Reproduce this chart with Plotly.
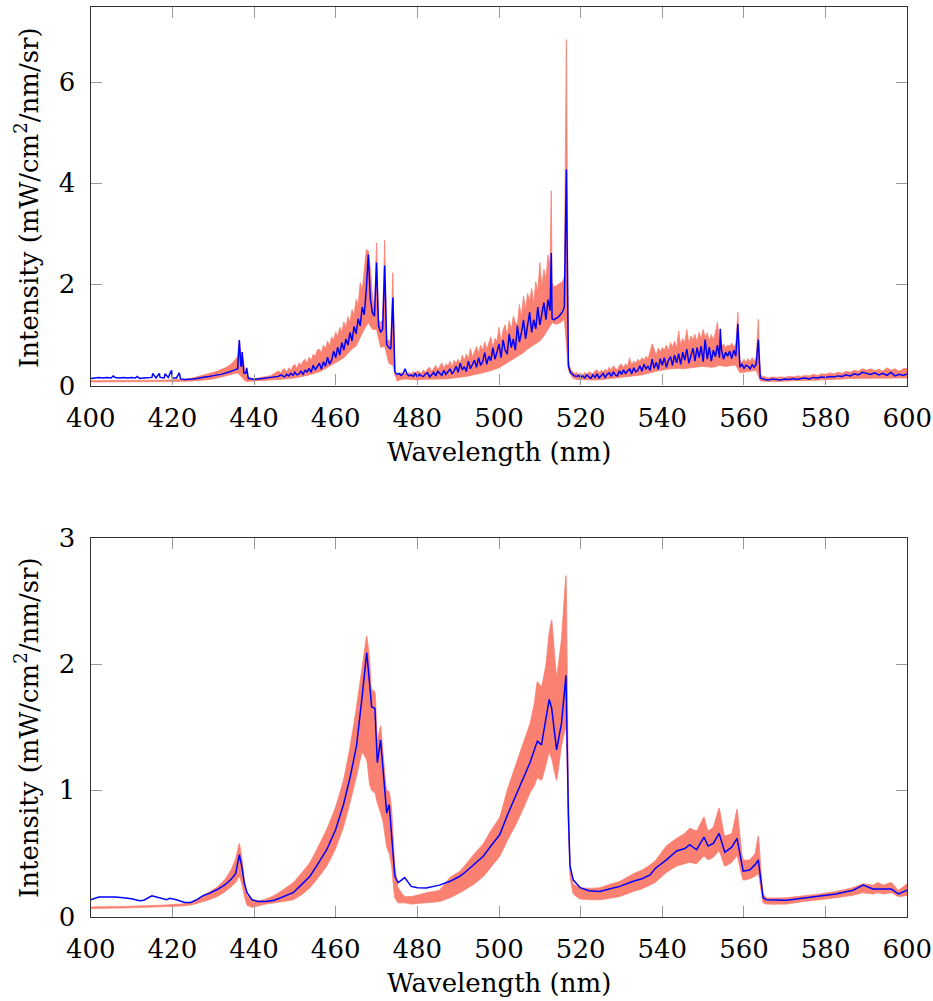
import plotly.graph_objects as go

# ---------------- Top panel: full-resolution spectrum ----------------
# Blue measured spectrum, sampled on evenly spaced segments (start, stop, values)
LINE_A_RANGE = (400.0, 445.0)
LINE_A = [0.14, 0.15, 0.16, 0.15, 0.16, 0.15, 0.16, 0.15, 0.16, 0.15,
          0.16, 0.15, 0.14, 0.15, 0.15, 0.16, 0.15, 0.16, 0.15, 0.16,
          0.15, 0.15, 0.13, 0.12, 0.12, 0.13, 0.14, 0.16, 0.17, 0.18,
          0.20, 0.21, 0.22, 0.24, 0.27, 0.30, 0.33, 0.42, 0.24, 0.14,
          0.12, 0.13, 0.14, 0.14, 0.15, 0.16]
LINE_B_RANGE = (446.0, 474.0)
LINE_B = [0.18, 0.21, 0.19, 0.17, 0.22, 0.19, 0.24, 0.20, 0.26, 0.21,
          0.23, 0.28, 0.22, 0.30, 0.27, 0.34, 0.26, 0.40, 0.31, 0.37,
          0.44, 0.32, 0.47, 0.38, 0.56, 0.42, 0.50, 0.68, 0.55, 0.76,
          0.60, 0.85, 0.70, 0.92, 0.80, 1.05, 0.88, 1.17, 1.02, 1.32,
          1.18, 1.55, 1.40, 1.90, 2.59, 1.70, 1.44, 1.37, 2.43, 1.18,
          1.05, 1.11, 2.37, 0.81, 0.75, 0.72, 1.74]
LINE_C_RANGE = (474.5, 516.5)
LINE_C = [0.27, 0.22, 0.24, 0.20, 0.23, 0.33, 0.22, 0.19, 0.21, 0.18,
          0.24, 0.17, 0.22, 0.19, 0.18, 0.23, 0.25, 0.17, 0.21, 0.26,
          0.19, 0.28, 0.24, 0.20, 0.30, 0.22, 0.27, 0.33, 0.23, 0.29,
          0.38, 0.26, 0.44, 0.31, 0.37, 0.28, 0.48, 0.33, 0.42, 0.50,
          0.36, 0.55, 0.40, 0.47, 0.65, 0.42, 0.58, 0.49, 0.75, 0.52,
          0.66, 0.82, 0.55, 0.90, 0.70, 0.62, 1.02, 0.75, 0.92, 0.70,
          1.18, 0.86, 1.05, 1.30, 0.92, 1.22, 1.45, 1.05, 1.30, 1.12,
          1.55, 1.20, 1.42, 1.64, 1.30, 1.70, 1.48, 1.32, 1.30, 1.33,
          1.35, 1.40, 1.45, 1.55, 4.27]
LINE_D_RANGE = (517.0, 564.0)
LINE_D = [0.39, 0.26, 0.22, 0.19, 0.18, 0.20, 0.16, 0.19, 0.15, 0.21,
          0.17, 0.14, 0.21, 0.16, 0.23, 0.15, 0.19, 0.24, 0.16, 0.22,
          0.25, 0.18, 0.27, 0.21, 0.19, 0.29, 0.22, 0.31, 0.24, 0.28,
          0.33, 0.23, 0.35, 0.27, 0.30, 0.39, 0.28, 0.42, 0.33, 0.38,
          0.30, 0.52, 0.34, 0.46, 0.32, 0.53, 0.40, 0.55, 0.36, 0.50,
          0.57, 0.40, 0.60, 0.45, 0.63, 0.42, 0.66, 0.50, 0.72, 0.44,
          0.62, 0.74, 0.48, 0.75, 0.55, 0.78, 0.47, 0.91, 0.52, 0.76,
          0.48, 0.70, 0.57, 0.80, 0.55, 0.70, 0.52, 0.66, 0.58, 0.68,
          0.53, 0.70, 0.58, 1.22, 0.36, 0.42, 0.34, 0.40, 0.38, 0.33,
          0.41, 0.36, 0.42, 0.91, 0.15]
LINE_E_RANGE = (565.0, 600.0)
LINE_E = [0.12, 0.11, 0.13, 0.12, 0.11, 0.13, 0.12, 0.14, 0.12, 0.14,
          0.15, 0.13, 0.16, 0.15, 0.17, 0.16, 0.18, 0.17, 0.19, 0.18,
          0.21, 0.19, 0.23, 0.21, 0.26, 0.24, 0.22, 0.25, 0.21, 0.24,
          0.20, 0.26, 0.19, 0.22, 0.20, 0.23]
LINE_SPIKE_WL = [405.5, 411.3, 415.2, 416.8, 418.2, 419.8, 421.7, 436.4,
                 436.8, 437.1, 437.5, 438.2, 438.6, 512.8, 554.2]
LINE_SPIKE = [0.19, 0.18, 0.24, 0.24, 0.23, 0.30, 0.25, 0.90,
              0.37, 0.66, 0.25, 0.35, 0.14, 2.62, 1.12]

# Salmon spread band: upper edge
HI_A_RANGE = (400.0, 445.0)
HI_A = [0.095, 0.095, 0.095, 0.095, 0.095, 0.095, 0.095, 0.095, 0.10, 0.10,
        0.10, 0.10, 0.10, 0.10, 0.10, 0.105, 0.105, 0.105, 0.105, 0.11,
        0.11, 0.11, 0.11, 0.12, 0.13, 0.15, 0.17, 0.19, 0.22, 0.23,
        0.26, 0.28, 0.32, 0.35, 0.40, 0.47, 0.58, 0.50, 0.22, 0.15,
        0.13, 0.15, 0.16, 0.18, 0.19, 0.24]
HI_B_RANGE = (446.0, 474.0)
HI_B = [0.29, 0.24, 0.31, 0.33, 0.26, 0.35, 0.30, 0.38, 0.42, 0.33,
        0.45, 0.40, 0.48, 0.52, 0.44, 0.56, 0.50, 0.62, 0.58, 0.70,
        0.72, 0.64, 0.80, 0.72, 0.88, 0.78, 0.96, 0.90, 1.06, 0.96,
        1.15, 1.05, 1.26, 1.14, 1.36, 1.25, 1.50, 1.40, 1.70, 1.58,
        2.03, 1.88, 2.23, 2.69, 2.66, 2.30, 1.77, 1.50, 2.82, 1.30,
        1.24, 1.30, 2.87, 0.90, 0.90, 0.84, 2.23]
HI_C_RANGE = (474.5, 516.5)
HI_C = [0.19, 0.24, 0.20, 0.26, 0.22, 0.25, 0.21, 0.26, 0.22, 0.28,
        0.23, 0.29, 0.26, 0.24, 0.31, 0.25, 0.33, 0.36, 0.27, 0.35,
        0.40, 0.31, 0.38, 0.45, 0.33, 0.43, 0.38, 0.48, 0.36, 0.50,
        0.44, 0.52, 0.43, 0.60, 0.50, 0.62, 0.52, 0.73, 0.56, 0.68,
        0.77, 0.64, 0.80, 0.70, 0.86, 0.72, 0.84, 0.96, 0.75, 0.93,
        0.88, 1.15, 0.86, 1.10, 1.20, 0.98, 1.28, 1.10, 1.37, 1.25,
        1.20, 1.60, 1.35, 1.77, 1.50, 1.82, 1.68, 1.92, 1.62, 2.05,
        1.85, 2.43, 1.95, 2.30, 2.10, 2.58, 2.35, 2.03, 1.95, 1.97,
        2.00, 2.03, 2.05, 2.15, 6.84]
HI_D_RANGE = (517.0, 564.0)
HI_D = [0.50, 0.32, 0.28, 0.24, 0.26, 0.22, 0.24, 0.21, 0.26, 0.22,
        0.27, 0.25, 0.23, 0.29, 0.31, 0.25, 0.30, 0.27, 0.32, 0.29,
        0.36, 0.30, 0.39, 0.34, 0.31, 0.40, 0.42, 0.35, 0.43, 0.38,
        0.55, 0.40, 0.48, 0.44, 0.52, 0.47, 0.55, 0.50, 0.58, 0.52,
        0.66, 0.82, 0.72, 0.60, 0.74, 0.66, 0.75, 0.70, 0.80, 0.68,
        0.85, 0.76, 0.88, 0.74, 1.08, 0.80, 0.93, 0.85, 1.11, 0.82,
        0.98, 0.90, 1.01, 0.86, 1.05, 0.92, 1.11, 0.95, 1.04, 0.88,
        1.01, 0.90, 1.05, 1.25, 0.85, 0.76, 0.82, 0.74, 0.80, 0.78,
        0.84, 0.76, 0.82, 1.45, 0.50, 0.45, 0.52, 0.46, 0.53, 0.47,
        0.55, 0.48, 0.56, 1.31, 0.20]
HI_E_RANGE = (565.0, 600.0)
HI_E = [0.17, 0.15, 0.17, 0.16, 0.17, 0.16, 0.18, 0.17, 0.19, 0.18,
        0.20, 0.19, 0.22, 0.20, 0.23, 0.22, 0.25, 0.23, 0.26, 0.24,
        0.28, 0.26, 0.30, 0.28, 0.33, 0.30, 0.33, 0.29, 0.32, 0.28,
        0.35, 0.30, 0.33, 0.28, 0.33, 0.34]
HI_SPIKE_WL = [436.4, 437.1, 512.8]
HI_SPIKE = [0.88, 0.60, 3.85]

# Salmon spread band: lower edge
LO_A_RANGE = (400.0, 444.0)
LO_A = [0.07, 0.07, 0.07, 0.07, 0.07, 0.072, 0.072, 0.074, 0.076, 0.078,
        0.08, 0.082, 0.086, 0.095, 0.11, 0.13, 0.16, 0.21, 0.25, 0.08,
        0.08, 0.10, 0.11]
LO_B_RANGE = (446.0, 517.0)
LO_B = [0.12, 0.12, 0.13, 0.14, 0.15, 0.16, 0.18, 0.20, 0.22, 0.24,
        0.27, 0.31, 0.35, 0.40, 0.45, 0.50, 0.55, 0.63, 0.72, 0.78,
        0.95, 1.11, 1.24, 1.11, 1.11, 0.75, 0.78, 0.44, 0.40, 0.09,
        0.12, 0.13, 0.13, 0.12, 0.11, 0.12, 0.12, 0.12, 0.12, 0.13,
        0.13, 0.13, 0.13, 0.15, 0.16, 0.17, 0.18, 0.19, 0.21, 0.23,
        0.25, 0.27, 0.29, 0.32, 0.35, 0.40, 0.45, 0.50, 0.55, 0.60,
        0.65, 0.72, 0.78, 0.83, 0.88, 0.98, 1.11, 1.24, 1.21, 1.24,
        1.31, 0.30]
LO_C_RANGE = (518.0, 565.0)
LO_C = [0.15, 0.12, 0.11, 0.11, 0.11, 0.11, 0.11, 0.12, 0.13,
        0.13, 0.14, 0.15, 0.16, 0.17, 0.19, 0.19, 0.20, 0.21, 0.22,
        0.25, 0.27, 0.29, 0.31, 0.32, 0.33, 0.34, 0.34, 0.33, 0.33,
        0.35, 0.36, 0.37, 0.38, 0.37, 0.36, 0.37, 0.40, 0.38, 0.38,
        0.40, 0.40, 0.25, 0.27, 0.28, 0.29, 0.30, 0.09, 0.08]
LO_D_RANGE = (566.0, 600.0)
LO_D = [0.08, 0.08, 0.09, 0.09, 0.10, 0.10, 0.11, 0.11, 0.12, 0.13,
        0.14, 0.15, 0.15, 0.15, 0.15, 0.14, 0.15, 0.15]

# ---------------- Bottom panel: smoothed spectrum ----------------
SMOOTH_WL = [400, 402, 404, 406, 408, 410, 412, 413, 415, 417,
             418.6, 419.4, 421, 423, 424.5, 426, 427.5, 429, 431, 433,
             434.5, 435.5, 436.4, 437, 437.6, 438.3, 439.5, 441, 443, 445,
             447, 449.6, 451.5, 453.7, 455.5, 457.8, 460, 461.9, 463.5, 465.1,
             466.5, 467.6, 468.3, 468.8, 469.6, 470.2, 471, 471.6, 472.5, 473.1,
             473.7, 474.5, 475.3, 476.9, 478.5, 480, 482.2, 485.4, 488, 490.4,
             492, 494, 496.2, 498, 500.2, 502, 504.3, 506, 507.6, 508.7,
             509.4, 510.4, 511.5, 512.3, 512.9, 514.1, 515.3, 516.4, 517, 517.4,
             518.2, 519.9, 522, 524.7, 527, 529.6, 532.9, 535, 537, 538.2,
             541, 543.5, 545.5, 546.7, 548.4, 550.2, 551.2, 552.5, 553.9, 555.3,
             557, 558.3, 559.8, 561.4, 562.7, 563.5, 564.7, 565.5, 570.4, 574.5,
             578.6, 582.5, 586.7, 589.2, 591.6, 592.8, 594.1, 596.1, 597.8, 600]
SMOOTH_MEAN = [0.134, 0.156, 0.155, 0.156, 0.150, 0.142, 0.127, 0.130, 0.166, 0.150,
               0.134, 0.145, 0.134, 0.113, 0.113, 0.135, 0.166, 0.185, 0.215, 0.255,
               0.30, 0.34, 0.492, 0.40, 0.27, 0.19, 0.134, 0.121, 0.12, 0.13,
               0.155, 0.19, 0.25, 0.32, 0.41, 0.53, 0.69, 0.886, 1.10, 1.35,
               1.75, 2.09, 1.85, 1.66, 1.65, 1.22, 1.40, 1.15, 0.82, 0.886,
               0.66, 0.32, 0.27, 0.31, 0.24, 0.23, 0.227, 0.25, 0.28, 0.32,
               0.36, 0.42, 0.48, 0.56, 0.65, 0.80, 0.98, 1.10, 1.22, 1.32,
               1.39, 1.36, 1.55, 1.72, 1.65, 1.32, 1.53, 1.91, 0.80, 0.40,
               0.29, 0.23, 0.205, 0.20, 0.22, 0.24, 0.28, 0.30, 0.33, 0.38,
               0.45, 0.52, 0.54, 0.57, 0.53, 0.63, 0.56, 0.58, 0.66, 0.51,
               0.55, 0.62, 0.36, 0.37, 0.41, 0.45, 0.15, 0.134, 0.13, 0.145,
               0.16, 0.18, 0.21, 0.25, 0.22, 0.22, 0.22, 0.22, 0.18, 0.21]
SMOOTH_HI = [0.077, 0.078, 0.079, 0.080, 0.081, 0.083, 0.085, 0.086, 0.089, 0.091,
             0.093, 0.095, 0.098, 0.103, 0.112, 0.135, 0.165, 0.195, 0.235, 0.30,
             0.38, 0.46, 0.58, 0.47, 0.30, 0.17, 0.13, 0.125, 0.14, 0.17,
             0.21, 0.27, 0.34, 0.43, 0.54, 0.69, 0.87, 1.08, 1.34, 1.66,
             1.98, 2.22, 2.05, 1.80, 1.78, 1.40, 1.51, 1.30, 1.00, 0.99,
             0.85, 0.40, 0.23, 0.16, 0.16, 0.17, 0.19, 0.21, 0.31, 0.36,
             0.42, 0.50, 0.58, 0.68, 0.79, 1.00, 1.22, 1.38, 1.53, 1.70,
             1.86, 1.82, 2.00, 2.25, 2.35, 1.90, 2.20, 2.70, 1.00, 0.42,
             0.26, 0.23, 0.225, 0.23, 0.255, 0.28, 0.34, 0.37, 0.41, 0.44,
             0.56, 0.62, 0.66, 0.70, 0.68, 0.79, 0.68, 0.71, 0.86, 0.64,
             0.66, 0.85, 0.45, 0.45, 0.50, 0.64, 0.18, 0.15, 0.15, 0.165,
             0.18, 0.20, 0.23, 0.26, 0.25, 0.27, 0.25, 0.27, 0.21, 0.26]
SMOOTH_LO = [0.065, 0.066, 0.067, 0.068, 0.069, 0.071, 0.073, 0.074, 0.076, 0.078,
             0.080, 0.081, 0.083, 0.087, 0.092, 0.105, 0.120, 0.135, 0.16, 0.20,
             0.24, 0.27, 0.32, 0.26, 0.17, 0.09, 0.075, 0.085, 0.10, 0.11,
             0.12, 0.134, 0.17, 0.23, 0.30, 0.40, 0.54, 0.71, 0.90, 1.11,
             1.30, 1.24, 1.05, 1.00, 0.98, 0.90, 0.82, 0.75, 0.55, 0.50,
             0.40, 0.15, 0.11, 0.11, 0.10, 0.105, 0.11, 0.12, 0.15, 0.19,
             0.22, 0.26, 0.32, 0.39, 0.48, 0.60, 0.74, 0.86, 0.98, 1.04,
             1.10, 1.08, 1.20, 1.30, 1.25, 1.08, 1.35, 1.50, 0.70, 0.32,
             0.18, 0.14, 0.135, 0.134, 0.145, 0.16, 0.20, 0.22, 0.25, 0.27,
             0.35, 0.40, 0.42, 0.43, 0.42, 0.48, 0.45, 0.47, 0.52, 0.40,
             0.43, 0.48, 0.29, 0.30, 0.32, 0.34, 0.11, 0.10, 0.10, 0.12,
             0.135, 0.15, 0.17, 0.19, 0.18, 0.19, 0.18, 0.19, 0.16, 0.17]

X_TICKS = [400, 420, 440, 460, 480, 500, 520, 540, 560, 580, 600]
TOP_Y_TICKS = [0, 2, 4, 6]
BOTTOM_Y_TICKS = [0, 1, 2, 3]

X_LABEL = "Wavelength (nm)"
Y_LABEL = "Intensity (mW/cm<sup>2</sup>/nm/sr)"

SALMON = "#FA8072"
BLUE = "#0000FF"
FONT = "DejaVu Serif"


def spread(rng, values):
    """Evenly spaced wavelengths for a segment of samples."""
    start, stop = rng
    n = len(values)
    step = (stop - start) / (n - 1)
    return [start + i * step for i in range(n)]


def merge(pairs):
    pts = []
    for rng, vals in pairs:
        pts.extend(zip(spread(rng, vals), vals))
    return pts


def with_spikes(pts, wl, vals):
    pts = pts + list(zip(wl, vals))
    pts.sort(key=lambda p: p[0])
    return [p[0] for p in pts], [p[1] for p in pts]


line_x, line_y = with_spikes(
    merge([(LINE_A_RANGE, LINE_A), (LINE_B_RANGE, LINE_B), (LINE_C_RANGE, LINE_C),
           (LINE_D_RANGE, LINE_D), (LINE_E_RANGE, LINE_E)]),
    LINE_SPIKE_WL, LINE_SPIKE)
hi_x, hi_y = with_spikes(
    merge([(HI_A_RANGE, HI_A), (HI_B_RANGE, HI_B), (HI_C_RANGE, HI_C),
           (HI_D_RANGE, HI_D), (HI_E_RANGE, HI_E)]),
    HI_SPIKE_WL, HI_SPIKE)
lo_x, lo_y = with_spikes(
    merge([(LO_A_RANGE, LO_A), (LO_B_RANGE, LO_B), (LO_C_RANGE, LO_C),
           (LO_D_RANGE, LO_D)]),
    [], [])

fig = go.Figure()

# top panel band (closed polygon: upper edge then lower edge reversed)
fig.add_trace(go.Scatter(
    x=hi_x + lo_x[::-1], y=hi_y + lo_y[::-1],
    fill="toself", fillcolor=SALMON, mode="lines",
    line=dict(color=SALMON, width=0.8),
    xaxis="x", yaxis="y", hoverinfo="skip", showlegend=False))
fig.add_trace(go.Scatter(
    x=line_x, y=line_y, mode="lines",
    line=dict(color=BLUE, width=1.5),
    xaxis="x", yaxis="y", showlegend=False))

# bottom panel band and mean
fig.add_trace(go.Scatter(
    x=SMOOTH_WL + SMOOTH_WL[::-1], y=SMOOTH_HI + SMOOTH_LO[::-1],
    fill="toself", fillcolor=SALMON, mode="lines",
    line=dict(color=SALMON, width=0.8, shape="spline", smoothing=0.3),
    xaxis="x2", yaxis="y2", hoverinfo="skip", showlegend=False))
fig.add_trace(go.Scatter(
    x=SMOOTH_WL, y=SMOOTH_MEAN, mode="lines",
    line=dict(color=BLUE, width=1.5),
    xaxis="x2", yaxis="y2", showlegend=False))

W, H = 933, 1001
left, right = 90.7 / W, 907.3 / W
top_dom = [1 - 385.5 / H, 1 - 6.7 / H]
bot_dom = [1 - 916.7 / H, 1 - 537.7 / H]

TICK_SIZE = 26
TITLE_SIZE = 26

axis_common = dict(
    showline=True, linecolor="#333333", linewidth=1.3, mirror="ticks",
    ticks="inside", ticklen=11, tickwidth=1.3, tickcolor="#9a9a9a",
    showgrid=False, zeroline=False, automargin=False,
    ticklabeloverflow="allow",
    tickfont=dict(family=FONT, size=TICK_SIZE, color="black"),
)

fig.update_layout(
    width=W, height=H,
    margin=dict(l=0, r=0, t=0, b=0, autoexpand=False),
    paper_bgcolor="white", plot_bgcolor="white",
    font=dict(family=FONT, color="black"),
    xaxis=dict(domain=[left, right], range=[400, 600], tickvals=X_TICKS,
               anchor="y", ticklabelstandoff=9, **axis_common),
    yaxis=dict(domain=top_dom, range=[0, 7.49], tickvals=TOP_Y_TICKS,
               anchor="x", ticklabelstandoff=9, **axis_common),
    xaxis2=dict(domain=[left, right], range=[400, 600], tickvals=X_TICKS,
                anchor="y2", ticklabelstandoff=9, **axis_common),
    yaxis2=dict(domain=bot_dom, range=[0, 3], tickvals=BOTTOM_Y_TICKS,
                anchor="x2", ticklabelstandoff=9, **axis_common),
    annotations=[
        dict(text=X_LABEL, x=(left + right) / 2, y=1 - 452 / H, xref="paper", yref="paper",
             showarrow=False, xanchor="center", yanchor="middle",
             font=dict(family=FONT, size=TITLE_SIZE, color="black")),
        dict(text=X_LABEL, x=(left + right) / 2, y=1 - 983 / H, xref="paper", yref="paper",
             showarrow=False, xanchor="center", yanchor="middle",
             font=dict(family=FONT, size=TITLE_SIZE, color="black")),
        dict(text=Y_LABEL, x=27 / W, y=1 - 198 / H, xref="paper", yref="paper",
             showarrow=False, xanchor="center", yanchor="middle", textangle=-90,
             font=dict(family=FONT, size=TITLE_SIZE, color="black")),
        dict(text=Y_LABEL, x=27 / W, y=1 - 728 / H, xref="paper", yref="paper",
             showarrow=False, xanchor="center", yanchor="middle", textangle=-90,
             font=dict(family=FONT, size=TITLE_SIZE, color="black")),
    ],
)

fig.write_html("out.html")
